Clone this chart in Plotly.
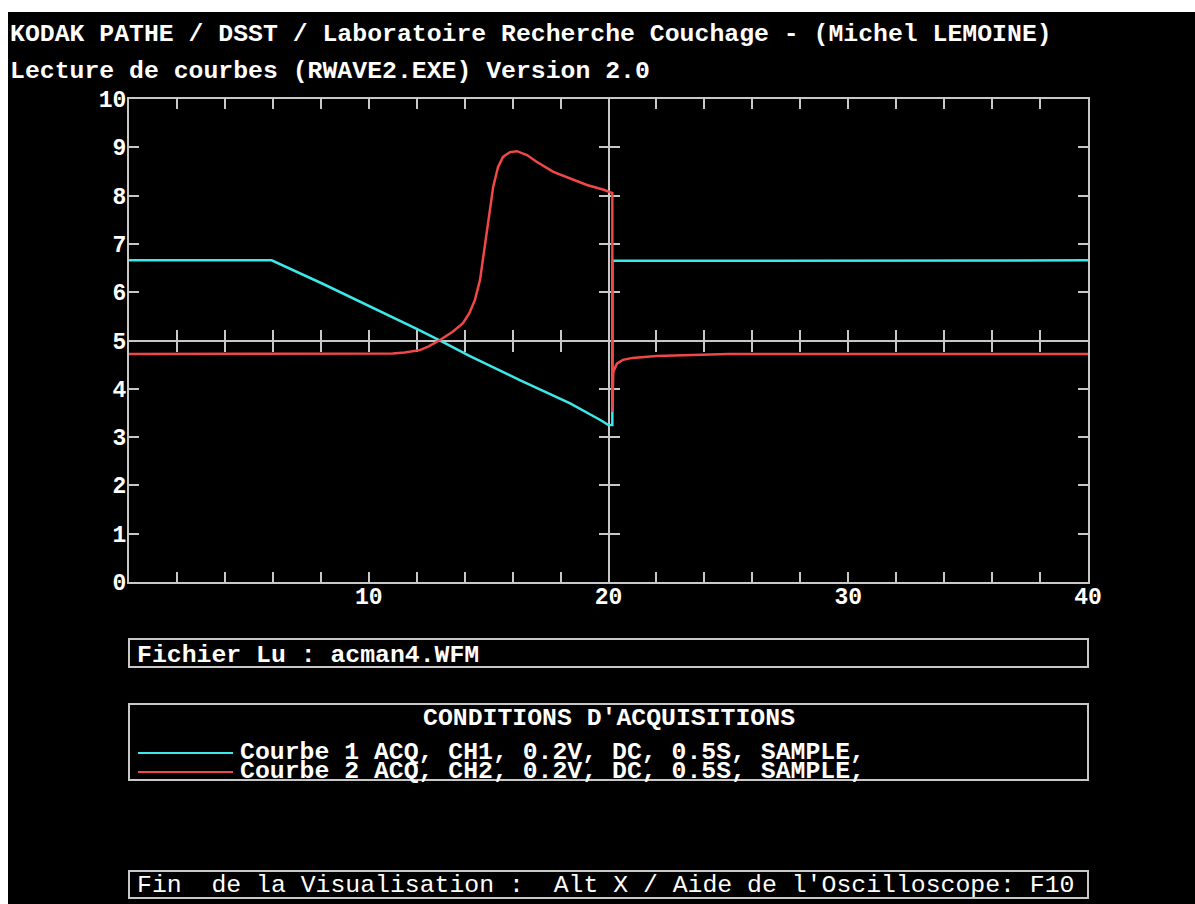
import plotly.graph_objects as go

# ---- waveform data (time axis 0..40, volts scaled 0..10) ----
t_courbe1 = [0, 5.95, 8.1, 10, 12, 13, 14.2, 16.3, 18.4, 19.64, 20.0, 20.16, 20.16, 40]
v_courbe1 = [6.66, 6.66, 6.17, 5.72, 5.24, 4.99, 4.68, 4.18, 3.70, 3.36, 3.25, 3.25, 6.65, 6.66]

t_courbe2 = [0, 10, 11, 11.5, 12.13, 12.5, 12.97, 13.5, 13.93, 14.2, 14.43, 14.64, 14.77,
             14.92, 15.05, 15.19, 15.39, 15.6, 15.89, 16.18, 16.6, 17.0, 17.7, 18.4, 19.1,
             19.8, 20.1, 20.16, 20.16, 20.2, 20.35, 20.6, 21.0, 22.0, 23.5, 25, 40]
v_courbe2 = [4.72, 4.72, 4.73, 4.75, 4.80, 4.88, 5.01, 5.18, 5.36, 5.57, 5.84, 6.25, 6.73,
             7.29, 7.77, 8.18, 8.59, 8.80, 8.90, 8.92, 8.84, 8.70, 8.49, 8.36, 8.22,
             8.12, 8.05, 8.05, 3.52, 4.35, 4.52, 4.60, 4.64, 4.68, 4.70, 4.72, 4.72]

x_ticks = list(range(2, 41, 2))
x_labels = {10: "10", 20: "20", 30: "30", 40: "40"}
y_ticks = list(range(0, 11))

titre1 = "KODAK PATHE / DSST / Laboratoire Recherche Couchage - (Michel LEMOINE)"
titre2 = "Lecture de courbes (RWAVE2.EXE) Version 2.0"
fichier = "Fichier Lu : acman4.WFM"
conditions = "CONDITIONS D'ACQUISITIONS"
legende = ["Courbe 1 ACQ, CH1, 0.2V, DC, 0.5S, SAMPLE,",
           "Courbe 2 ACQ, CH2, 0.2V, DC, 0.5S, SAMPLE,"]
pied = "Fin  de la Visualisation :  Alt X / Aide de l'Oscilloscope: F10"

# ---- styling ----
CYAN = "#3ce8e8"
RED = "#f04848"
GRID = "#c8c8c8"
FONT = "Liberation Mono"
SIZE = 24.8
W_FIG, H_FIG = 1195, 904
L, R, T, B = 129, 1088, 99, 582


def px(x):
    return (x - L) / (R - L)


def py(y):
    return (B - y) / (B - T)


bold = dict(family=FONT, size=SIZE, color="white", weight="bold")
tickfont = dict(family=FONT, size=23, color="white", weight="bold")

fig = go.Figure()
fig.add_trace(go.Scatter(x=t_courbe1, y=v_courbe1, mode="lines", name=legende[0],
                         line=dict(color=CYAN, width=2.5), showlegend=False))
fig.add_trace(go.Scatter(x=t_courbe2, y=v_courbe2, mode="lines", name=legende[1],
                         line=dict(color=RED, width=2.5), showlegend=False))

# empty traces so the cross-hair axes get their own subplots
for xa, ya in [("x2", "y"), ("x3", "y"), ("x", "y2"), ("x", "y3")]:
    fig.add_trace(go.Scatter(x=[], y=[], xaxis=xa, yaxis=ya, showlegend=False,
                             hoverinfo="skip"))

frame = dict(showline=True, linecolor=GRID, linewidth=2, mirror="ticks",
             ticks="inside", ticklen=10, tickwidth=2, tickcolor=GRID,
             showgrid=False, zeroline=False, tickfont=tickfont)

fig.update_layout(
    width=W_FIG, height=H_FIG,
    margin=dict(l=L, r=W_FIG - R, t=T, b=H_FIG - B, pad=0),
    paper_bgcolor="white", plot_bgcolor="black",
    xaxis=dict(range=[0, 40], domain=[0, 1], tickvals=x_ticks,
               ticktext=[x_labels.get(v, "") for v in x_ticks],
               ticklabelstandoff=-8, **frame),
    yaxis=dict(range=[0, 10], domain=[0, 1], tickvals=y_ticks,
               ticktext=[str(v) for v in y_ticks], ticklabelstandoff=-4, **frame),
    # horizontal cross-hair at 5 with ticks crossing the line
    xaxis2=dict(range=[0, 40], overlaying="x", anchor="free", position=0.5,
                showline=True, linecolor=GRID, linewidth=2, ticks="inside",
                ticklen=10, tickwidth=2, tickcolor=GRID, tickvals=x_ticks[:-1],
                showticklabels=False, showgrid=False, zeroline=False,
                layer="below traces"),
    xaxis3=dict(range=[0, 40], overlaying="x", anchor="free", position=0.5,
                showline=False, ticks="outside", ticklen=10, tickwidth=2,
                tickcolor=GRID, tickvals=x_ticks[:-1], showticklabels=False,
                showgrid=False, zeroline=False, layer="below traces"),
    # vertical cross-hair at 20
    yaxis2=dict(range=[0, 10], overlaying="y", anchor="free", position=0.5,
                showline=True, linecolor=GRID, linewidth=2, ticks="inside",
                ticklen=10, tickwidth=2, tickcolor=GRID, tickvals=y_ticks[1:-1],
                showticklabels=False, showgrid=False, zeroline=False,
                layer="below traces"),
    yaxis3=dict(range=[0, 10], overlaying="y", anchor="free", position=0.5,
                showline=False, ticks="outside", ticklen=10, tickwidth=2,
                tickcolor=GRID, tickvals=y_ticks[1:-1], showticklabels=False,
                showgrid=False, zeroline=False, layer="below traces"),
)

shapes = [
    # black screen
    dict(type="rect", xref="paper", yref="paper", x0=px(8), x1=px(W_FIG), y0=py(12),
         y1=py(H_FIG), fillcolor="black", line=dict(width=0), layer="below"),
]
boxes = [(639, 667), (704, 780), (871, 898)]
for y0, y1 in boxes:
    shapes.append(dict(type="rect", xref="paper", yref="paper", x0=px(L), x1=px(R),
                       y0=py(y0), y1=py(y1), line=dict(color=GRID, width=2),
                       fillcolor="rgba(0,0,0,0)"))
for yy, col in [(753, CYAN), (772, RED)]:
    shapes.append(dict(type="line", xref="paper", yref="paper", x0=px(138), x1=px(233),
                       y0=py(yy), y1=py(yy), line=dict(color=col, width=2)))
fig.update_layout(shapes=shapes)


def note(text, x, y, xanchor="left", font=bold):
    fig.add_annotation(text=text, xref="paper", yref="paper", x=px(x), y=py(y),
                       xanchor=xanchor, yanchor="middle", showarrow=False, font=font)


note(titre1, 8, 34)
note(titre2, 8, 71)
note(fichier, 135, 655)
note(conditions, (L + R) / 2, 718, xanchor="center")
note(legende[0], 238, 752)
note(legende[1], 238, 771)
note(pied, 135, 885, font=dict(family=FONT, size=SIZE, color="white"))

fig.write_html("out.html")
